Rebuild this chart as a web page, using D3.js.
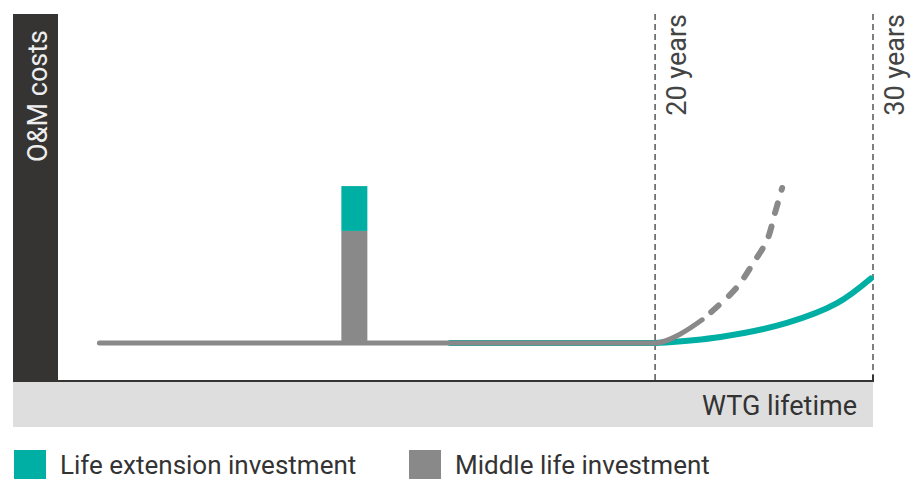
<!DOCTYPE html>
<html>
<head>
    <meta http-equiv="Content-Type" content="text/html;charset=utf8" />
    <title>O&amp;M costs over WTG lifetime</title>
    <script src="https://cdn.jsdelivr.net/npm/d3@7"></script>
    <style>
        body { margin: 0; background: #fff; font-family: Roboto, sans-serif; }
    </style>
</head>
<body>
<div id="chart"></div>
<script>
    // schematic values: x in years, y in O&M cost units (baseline = 1)
    var baseYears = [-5.5, 20];
    var baseCost = [1, 1];
    var tealBaseStart = 10.6;
    var lifeExtYears = [20, 23.0, 26.05, 28.35, 29.9];
    var lifeExtCost = [1, 1.16, 1.53, 2.05, 2.7];
    var noExtSolidYears = [20, 21.2, 22.16];
    var noExtSolidCost = [1, 1.25, 1.61];
    var noExtDashYears = [22.16, 22.84, 23.76, 24.5, 25.14, 25.5, 25.83];
    var noExtDashCost = [1.61, 1.95, 2.47, 3.1, 3.71, 4.42, 5.08];
    var barYear = 6.2;
    var barMiddle = 3.95;
    var barLifeExt = 5.13;
    var markerYears = [20, 30];
    var markerLabels = ["20 years", "30 years"];
    var legendLabels = ["Life extension investment", "Middle life investment"];

    var teal = "#00afa4", grey = "#898989", dark = "#363433";

    var svg = d3.select("#chart").append("svg").attr("width", 911).attr("height", 479);

    var x = d3.scaleLinear().domain([-7.4, 30]).range([58, 873]);
    var y = d3.scaleLinear().domain([0, 9.66]).range([381, 14]);

    // grey band for x-axis title
    svg.append("rect").attr("x", 13).attr("y", 382).attr("width", 860).attr("height", 45).attr("fill", "#dedede");
    svg.append("text").attr("x", 857).attr("y", 415).attr("text-anchor", "end")
        .attr("font-size", 27).attr("fill", "#333").text("WTG lifetime");

    // dark y-axis bar
    svg.append("rect").attr("x", 13).attr("y", 14).attr("width", 45).attr("height", 368).attr("fill", dark);
    svg.append("text").attr("transform", "translate(47,30) rotate(-90)").attr("text-anchor", "end")
        .attr("font-size", 27).attr("fill", "#eee").text("O&M costs");

    // markers
    markerYears.forEach(function(m, i) {
        svg.append("line").attr("x1", x(m)).attr("x2", x(m)).attr("y1", 14).attr("y2", 381)
            .attr("stroke", "#555").attr("stroke-width", 1.5).attr("stroke-dasharray", "6,4");
        svg.append("text").attr("transform", "translate(" + (x(m) + 31) + ",14) rotate(-90)")
            .attr("text-anchor", "end").attr("font-size", 27).attr("fill", "#444").text(markerLabels[i]);
    });

    // x axis line
    svg.append("line").attr("x1", 58).attr("x2", 874).attr("y1", y(0)).attr("y2", y(0))
        .attr("stroke", dark).attr("stroke-width", 2);
    svg.append("line").attr("x1", x(30)).attr("x2", x(30)).attr("y1", y(0) - 6).attr("y2", y(0))
        .attr("stroke", dark).attr("stroke-width", 2);

    var line = d3.line().x(function(d) { return x(d[0]); }).y(function(d) { return y(d[1]); })
        .curve(d3.curveMonotoneX);
    var smooth = d3.line().x(function(d) { return x(d[0]); }).y(function(d) { return y(d[1]); })
        .curve(d3.curveCatmullRom.alpha(0.5));
    var zip = function(a, b) { return a.map(function(v, i) { return [v, b[i]]; }); };

    // bar
    var bw = 26;
    svg.append("rect").attr("x", x(barYear) - bw / 2).attr("width", bw)
        .attr("y", y(barMiddle)).attr("height", y(baseCost[0]) - y(barMiddle)).attr("fill", grey);
    svg.append("rect").attr("x", x(barYear) - bw / 2).attr("width", bw)
        .attr("y", y(barLifeExt)).attr("height", y(barMiddle) - y(barLifeExt)).attr("fill", teal);

    // teal path (life extension)
    svg.append("path").attr("d", line([[tealBaseStart, 1], [20, 1]])).attr("fill", "none")
        .attr("stroke", teal).attr("stroke-width", 6).attr("stroke-linecap", "round");
    svg.append("path").attr("d", smooth(zip(lifeExtYears, lifeExtCost))).attr("fill", "none")
        .attr("stroke", teal).attr("stroke-width", 6).attr("stroke-linecap", "round");

    // grey path (no extension)
    svg.append("path").attr("d", line(zip(baseYears, baseCost).concat(zip(noExtSolidYears, noExtSolidCost).slice(1))))
        .attr("fill", "none").attr("stroke", grey).attr("stroke-width", 5).attr("stroke-linecap", "round");
    svg.append("path").attr("d", smooth(zip(noExtDashYears, noExtDashCost))).attr("fill", "none")
        .attr("stroke", grey).attr("stroke-width", 6).attr("stroke-linecap", "round")
        .attr("stroke-dasharray", "10,14").attr("stroke-dashoffset", -12);

    // legend
    var lg = svg.append("g");
    [[14, teal], [409, grey]].forEach(function(p, i) {
        lg.append("rect").attr("x", p[0]).attr("y", 450).attr("width", 32).attr("height", 30).attr("fill", p[1]);
        lg.append("text").attr("x", p[0] + 46).attr("y", 474).attr("font-size", 26).attr("fill", "#333").text(legendLabels[i]);
    });
</script>
</body>
</html>
